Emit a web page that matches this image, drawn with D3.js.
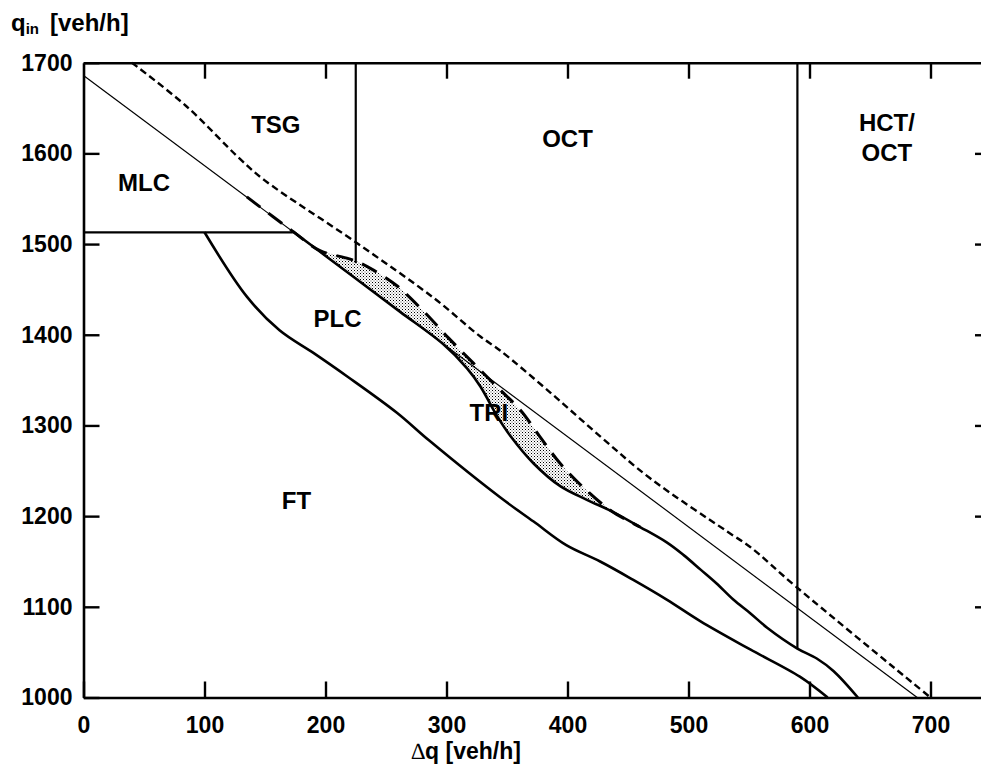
<!DOCTYPE html>
<html>
<head>
<meta charset="utf-8">
<script src="https://cdn.jsdelivr.net/npm/d3@7"></script>
<style>
  html, body { margin: 0; padding: 0; background: #fff; }
  svg text { font-family: "Liberation Sans", Arial, Helvetica, sans-serif; font-weight: bold; fill: #000; }
</style>
</head>
<body>
<svg id="chart" width="981" height="772"></svg>
<script>
// Axis ticks
const xTicks = [0, 100, 200, 300, 400, 500, 600, 700];
const yTicks = [1000, 1100, 1200, 1300, 1400, 1500, 1600, 1700];

// Boundary curves: [Δq, q_in] in veh/h
const shortDashBoundary = [[40,1700],[85,1652],[130,1593],[150,1570],[225,1502],[290,1440],[328,1398],[344,1383],[386,1336],[427,1288],[468,1242],[532,1183],[551,1166],[589,1122],[700,1000]];
const thinBoundary = [[0,1686],[689,1000]];
const triUpper = [[135,1552],[173,1514],[195,1493],[219,1484],[229,1479],[240,1471],[259,1454],[281,1426],[302,1396],[322,1369],[343,1341],[361,1317],[377,1288],[394,1258],[412,1233],[436,1206],[460,1188]];
const plcUpper = [[173,1514],[195,1492],[204,1483],[231,1456],[262,1425],[297,1390],[317,1363],[328,1343],[342,1310],[353,1288],[372,1258],[394,1233],[416,1218],[437,1205],[460,1188],[482,1171],[496,1157],[510,1141],[523,1126],[537,1108],[551,1093],[565,1077],[590,1054],[606,1043],[620,1029],[640,1000]];
const ftUpper = [[100,1513],[135,1442],[162,1405],[190,1380],[218,1354],[259,1314],[286,1283],[344,1221],[372,1194],[399,1168],[427,1150],[454,1130],[482,1108],[510,1084],[551,1053],[592,1023],[615,1000]];
const mlcLower = [[0,1513],[173,1513]];
const tsgEdge = [[225,1700],[225,1479]];
const hctEdge = [[590,1700],[590,1054]];

// Region names, anchored at their text baselines (centre)
const regionNames = ["TSG", "OCT", "MLC", "PLC", "TRI", "FT"];
const regionAt = [[159,1622],[400,1607],[50,1558],[210,1409],[335,1305],[176,1208]];

const x = d3.scaleLinear().domain([0, 750]).range([83.5, 991]);
const y = d3.scaleLinear().domain([1000, 1700]).range([697.5, 62.7]);

const svg = d3.select("#chart");
const defs = svg.append("defs");
const pat = defs.append("pattern").attr("id", "stipple")
  .attr("patternUnits", "userSpaceOnUse").attr("width", 3).attr("height", 3);
pat.append("rect").attr("x", 0).attr("y", 0).attr("width", 1).attr("height", 1).attr("fill", "#000");
pat.append("rect").attr("x", 1.5).attr("y", 1.5).attr("width", 1).attr("height", 1).attr("fill", "#555");

const line = d3.line().x(d => x(d[0])).y(d => y(d[1])).curve(d3.curveCatmullRom.alpha(0.5));
const straight = d3.line().x(d => x(d[0])).y(d => y(d[1]));

// Stippled TRI band between the long-dash edge and the PLC edge
const up = triUpper.filter(d => d[0] >= 195 && d[0] <= 437);
const lo = plcUpper.filter(d => d[0] >= 195 && d[0] <= 437).slice().reverse();
const band = line(up) + "L" + line(lo).slice(1) + "Z";
svg.append("path").attr("d", band).attr("fill", "url(#stipple)").attr("stroke", "none");

const g = svg.append("g").attr("fill", "none").attr("stroke", "#000").attr("stroke-linejoin", "round");

g.append("path").attr("d", straight(thinBoundary)).attr("stroke-width", 1.2);
g.append("path").attr("d", line(plcUpper)).attr("stroke-width", 2.6);
g.append("path").attr("d", line(ftUpper)).attr("stroke-width", 2.6);
g.append("path").attr("d", line(triUpper)).attr("stroke-width", 3).attr("stroke-dasharray", "17,10");
g.append("path").attr("d", line(shortDashBoundary)).attr("stroke-width", 2.4).attr("stroke-dasharray", "7,4");
g.append("path").attr("d", straight(mlcLower)).attr("stroke-width", 2.2);
g.append("path").attr("d", straight(tsgEdge)).attr("stroke-width", 2.2);
g.append("path").attr("d", straight(hctEdge)).attr("stroke-width", 2.2);

// Axes with inward ticks
function styleAxis(sel) {
  sel.selectAll(".domain").attr("stroke", "#000").attr("stroke-width", 2.6).attr("fill", "none");
  sel.selectAll(".tick line").attr("stroke", "#000").attr("stroke-width", 2.4);
  sel.selectAll("text").attr("font-size", 23).attr("font-family", null).attr("fill", "#000");
}
const axisLeftG = svg.append("g").attr("transform", `translate(${x(0)},0)`)
  .call(d3.axisLeft(y).tickValues(yTicks).tickSizeInner(-16).tickSizeOuter(0).tickPadding(11).tickFormat(d3.format("d")));
styleAxis(axisLeftG);
const axisBottomG = svg.append("g").attr("transform", `translate(0,${y(1000)})`)
  .call(d3.axisBottom(x).tickValues(xTicks).tickSizeInner(-16).tickSizeOuter(0).tickPadding(19).tickFormat(d3.format("d")));
styleAxis(axisBottomG);
const axisTopG = svg.append("g").attr("transform", `translate(0,${y(1700)})`)
  .call(d3.axisTop(x).tickValues(xTicks.slice(1)).tickSizeInner(-16).tickSizeOuter(0).tickFormat(""));
styleAxis(axisTopG);
const axisRightG = svg.append("g").attr("transform", `translate(${x(750)},0)`)
  .call(d3.axisRight(y).tickValues(yTicks.slice(1, -1)).tickSizeInner(-16).tickSizeOuter(0).tickFormat(""));
styleAxis(axisRightG);

// Region labels
const labels = svg.append("g").attr("font-size", 24).attr("text-anchor", "middle");
regionNames.forEach((t, i) => {
  labels.append("text").attr("x", x(regionAt[i][0])).attr("y", y(regionAt[i][1])).text(t);
});
const hct = labels.append("text").attr("x", x(664)).attr("y", y(1625));
hct.append("tspan").attr("x", x(664)).text("HCT/");
hct.append("tspan").attr("x", x(664)).attr("dy", 30).text("OCT");

// Axis titles
const yt = svg.append("text").attr("x", 11).attr("y", 31).attr("font-size", 24);
yt.append("tspan").text("q");
yt.append("tspan").attr("font-size", 15).attr("dy", 3).text("in");
yt.append("tspan").attr("x", 50).attr("dy", -3).text("[veh/h]");

const xt = svg.append("text").attr("x", 411).attr("y", 759).attr("font-size", 23);
xt.append("tspan").attr("font-family", "Liberation Serif, serif").attr("font-weight", "normal").attr("font-style", "italic").text("\u2206");
xt.append("tspan").text("q [veh/h]");
</script>
</body>
</html>
